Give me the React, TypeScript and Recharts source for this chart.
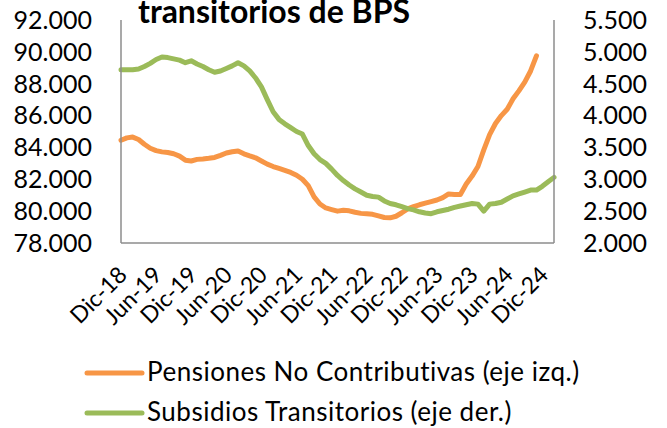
import React from "react";
import { LineChart, Line, XAxis, YAxis } from "recharts";

const MONTHS = ["Ene", "Feb", "Mar", "Abr", "May", "Jun", "Jul", "Ago", "Sep", "Oct", "Nov", "Dic"];

// Dic-18 .. Feb-25 (monthly)
const categories: string[] = (() => {
  const out: string[] = [];
  let m = 11;
  let y = 18;
  for (let i = 0; i < 75; i++) {
    out.push(`${MONTHS[m]}-${y}`);
    m++;
    if (m === 12) {
      m = 0;
      y++;
    }
  }
  return out;
})();

const pensionesNoContributivas: (number | null)[] = [
  84450, 84600, 84650, 84500, 84200, 83950, 83800, 83720, 83680, 83600, 83450, 83200,
  83150, 83250, 83280, 83320, 83370, 83500, 83650, 83730, 83780, 83600, 83470, 83350,
  83150, 82950, 82800, 82680, 82560, 82430, 82250, 82000, 81600, 80900, 80450, 80200,
  80100, 80000, 80050, 80020, 79930, 79860, 79830, 79800, 79700, 79600, 79580, 79680,
  79900, 80140, 80280, 80400, 80500, 80600, 80700, 80850, 81080, 81050, 81050, 81700,
  82200, 82800, 83850, 84800, 85500, 86000, 86400, 87050, 87550, 88100, 88800, 89750,
  null, null, null,
];

const subsidiosTransitorios: (number | null)[] = [
  4720, 4720, 4720, 4730, 4770, 4820, 4880, 4920, 4910, 4890, 4870, 4830,
  4860, 4810, 4770, 4720, 4680, 4700, 4740, 4780, 4830, 4780, 4700, 4590,
  4450, 4250, 4060, 3940, 3870, 3810, 3750, 3710, 3530, 3400, 3310, 3250,
  3160, 3060, 2980, 2910, 2850, 2800, 2750, 2730, 2720, 2660, 2620, 2600,
  2570, 2540, 2520, 2490, 2470, 2460, 2490, 2510, 2530, 2560, 2580, 2600,
  2620, 2610, 2500, 2610, 2620, 2640, 2690, 2740, 2770, 2800, 2830, 2830,
  2890, 2960, 3030,
];

const leftTicks = [78000, 80000, 82000, 84000, 86000, 88000, 90000, 92000];
const rightTicks = [2000, 2500, 3000, 3500, 4000, 4500, 5000, 5500];

const TITLE = "transitorios de BPS";
const SERIES_NAMES = ["Pensiones No Contributivas (eje izq.)", "Subsidios Transitorios (eje der.)"];
const ORANGE = "#F79646";
const GREEN = "#9BBB59";
const AXIS = "#8c8c8c";
const FONT = "Lato, 'Noto Sans', sans-serif";

const data = categories.map((c, i) => ({
  m: c,
  pnc: pensionesNoContributivas[i],
  st: subsidiosTransitorios[i],
}));

const fmt = (v: number) => {
  const s = Math.round(v).toString();
  return s.replace(/\B(?=(\d{3})+(?!\d))/g, ".");
};

const XTick = (props: any) => {
  const { x, y, payload } = props;
  const ty = y + 27;
  const tx = x + 1;
  return (
    <text
      x={tx}
      y={ty}
      transform={`rotate(-45, ${tx}, ${ty})`}
      textAnchor="end"
      dominantBaseline="central"
      fontFamily={FONT}
      fontSize={23}
      fill="#000"
    >
      {payload.value}
    </text>
  );
};

export default function App() {
  return (
    <div style={{ position: "relative", width: 667, height: 428, background: "#fff", overflow: "hidden" }}>
      <style>{`body{margin:0}`}</style>
      <LineChart
        width={667}
        height={428}
        data={data}
        margin={{ top: 20, right: 0, bottom: 0, left: 0 }}
      >
        <XAxis
          dataKey="m"
          interval={5}
          tick={<XTick />}
          tickLine={false}
          tickSize={0}
          tickMargin={0}
          height={185}
          axisLine={{ stroke: AXIS, strokeWidth: 1.5 }}
          padding={{ left: 0, right: 0 }}
        />
        <YAxis
          yAxisId="left"
          orientation="left"
          width={121}
          domain={[78000, 92000]}
          ticks={leftTicks}
          tickFormatter={fmt}
          tickLine={false}
          tickSize={0}
          tickMargin={29}
          axisLine={{ stroke: AXIS, strokeWidth: 1.5 }}
          tick={{ fontFamily: FONT, fontSize: 25, fill: "#000" }}
          interval={0}
        />
        <YAxis
          yAxisId="right"
          orientation="right"
          width={113}
          domain={[2000, 5500]}
          ticks={rightTicks}
          tickFormatter={fmt}
          tickLine={false}
          tickSize={0}
          tickMargin={29}
          axisLine={{ stroke: AXIS, strokeWidth: 1.5 }}
          tick={{ fontFamily: FONT, fontSize: 25, fill: "#000", textAnchor: "start" }}
          interval={0}
        />
        <Line
          yAxisId="left"
          type="linear"
          dataKey="pnc"
          stroke={ORANGE}
          strokeWidth={5}
          dot={false}
          strokeLinecap="round"
          strokeLinejoin="round"
          isAnimationActive={false}
          connectNulls={false}
        />
        <Line
          yAxisId="right"
          type="linear"
          dataKey="st"
          stroke={GREEN}
          strokeWidth={5}
          dot={false}
          strokeLinecap="round"
          strokeLinejoin="round"
          isAnimationActive={false}
        />
      </LineChart>
      <svg
        width={667}
        height={428}
        style={{ position: "absolute", left: 0, top: 0, pointerEvents: "none" }}
      >
        <text x={138} y={23} fontFamily={FONT} fontWeight={700} fontSize={32} fill="#000">
          {TITLE}
        </text>
        <line x1={87} y1={373} x2={142} y2={373} stroke={ORANGE} strokeWidth={5} strokeLinecap="round" />
        <text x={147} y={381} fontFamily={FONT} fontSize={26} letterSpacing={0.5} fill="#000">
          {SERIES_NAMES[0]}
        </text>
        <line x1={87} y1={413} x2={142} y2={413} stroke={GREEN} strokeWidth={5} strokeLinecap="round" />
        <text x={147} y={421} fontFamily={FONT} fontSize={26} letterSpacing={0.5} fill="#000">
          {SERIES_NAMES[1]}
        </text>
      </svg>
    </div>
  );
}
